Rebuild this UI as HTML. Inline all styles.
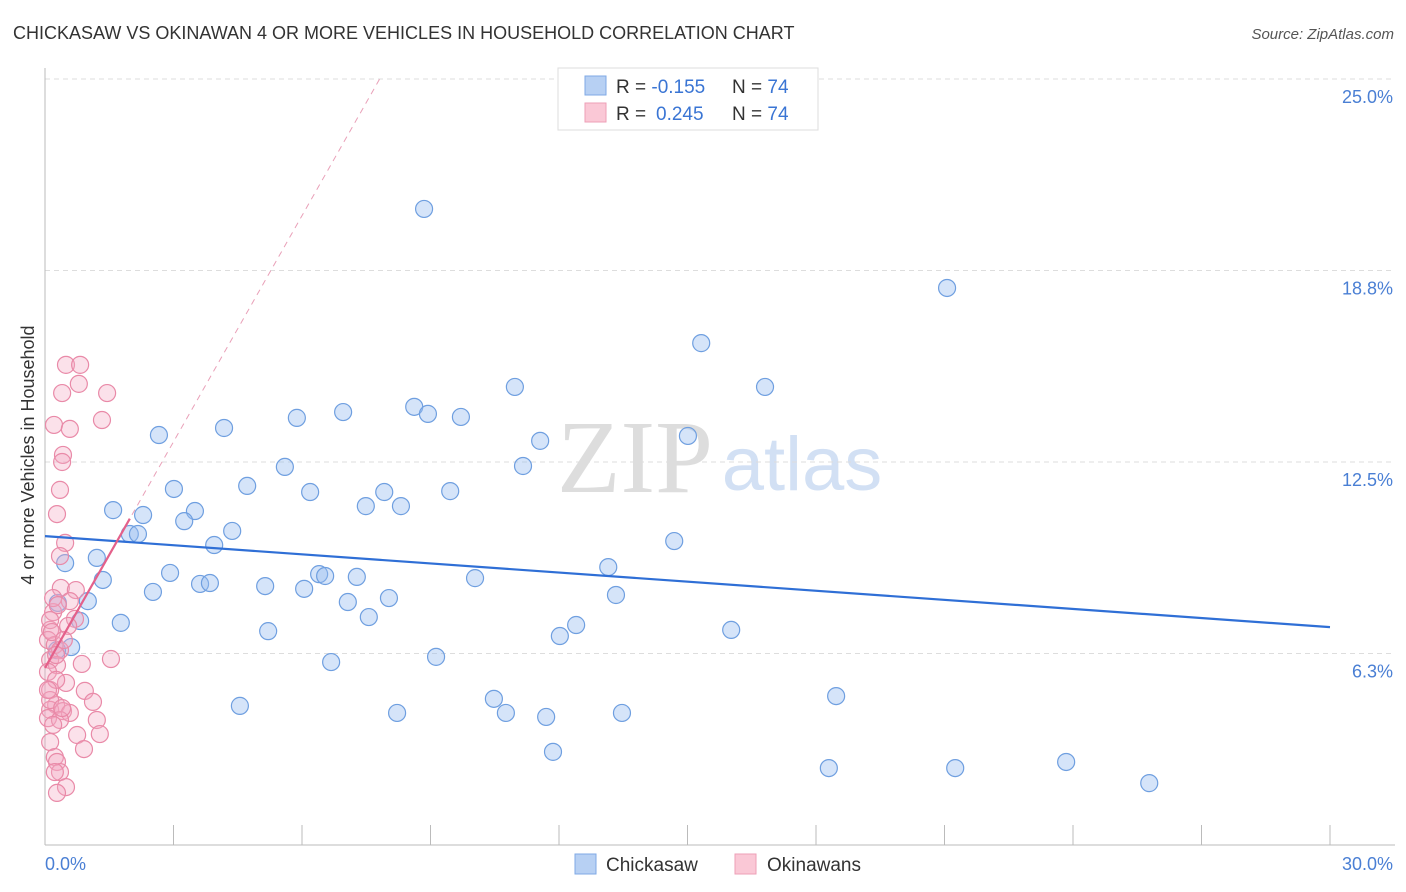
<!DOCTYPE html>
<html><head><meta charset="utf-8"><style>
body{margin:0;background:#fff;font-family:"Liberation Sans",sans-serif;}
svg{display:block}
</style></head><body>
<svg id="chart" width="1406" height="892" xmlns="http://www.w3.org/2000/svg">
<text x="13" y="39" font-size="18" fill="#333">CHICKASAW VS OKINAWAN 4 OR MORE VEHICLES IN HOUSEHOLD CORRELATION CHART</text>
<text x="1394" y="39" font-size="15" font-style="italic" fill="#555" text-anchor="end">Source: ZipAtlas.com</text>
<g>
<text x="635" y="492" font-size="104" font-family="Liberation Serif,serif" fill="#ddd" text-anchor="middle">ZIP</text>
<text x="802" y="490" font-size="76" fill="#d2e0f4" text-anchor="middle">atlas</text>
</g>
<g id="grid"></g>
<g id="axes"></g>
<g id="marks"></g>
<text transform="translate(34,455) rotate(-90)" font-size="18" fill="#333" text-anchor="middle">4 or more Vehicles in Household</text>
<text x="45" y="870" font-size="18" fill="#4a7fd4">0.0%</text>
<text x="1393" y="870" font-size="18" fill="#4a7fd4" text-anchor="end">30.0%</text>
<g>
<rect x="558" y="68" width="260" height="62" fill="#fff" stroke="#ddd"/>
<rect x="585" y="76" width="21" height="19" fill="#b7d0f3" stroke="#7fa9e6"/>
<rect x="585" y="103" width="21" height="19" fill="#fac8d6" stroke="#ee9fb7"/>
<text x="616" y="93" font-size="19" fill="#333">R = <tspan fill="#3a75d4">-0.155</tspan><tspan x="732">N = </tspan><tspan fill="#3a75d4">74</tspan></text>
<text x="616" y="120" font-size="19" fill="#333">R = <tspan x="656" fill="#3a75d4">0.245</tspan><tspan x="732">N = </tspan><tspan fill="#3a75d4">74</tspan></text>
</g>
<g>
<rect x="575" y="854" width="21" height="20" fill="#b7d0f3" stroke="#7fa9e6"/>
<text x="606" y="871" font-size="19" fill="#333">Chickasaw</text>
<rect x="735" y="854" width="21" height="20" fill="#fac8d6" stroke="#ee9fb7"/>
<text x="767" y="871" font-size="19" fill="#333">Okinawans</text>
</g>
</svg>
<script>
const yTicks=[6.25,12.5,18.75,25];
const yTickLabels=["6.3%","12.5%","18.8%","25.0%"];
const xTicks=[0,3,6,9,12,15,18,21,24,27,30];
const blueX=[8.85,21.06,15.32,10.97,16.81,2.66,4.18,5.88,6.96,8.62,8.94,9.71,11.56,15.01,11.16,5.60,3.01,4.72,6.19,7.92,9.46,7.49,8.31,1.59,2.29,3.50,3.25,4.37,1.98,2.17,3.95,14.69,1.21,0.47,13.15,6.40,6.54,7.28,10.04,2.92,1.35,3.62,3.85,5.14,6.05,2.52,8.03,13.33,7.07,0.30,1.00,0.82,1.77,7.56,12.40,12.02,5.21,16.02,0.61,6.68,9.13,10.48,18.47,4.55,8.22,10.76,13.47,11.70,11.86,18.30,21.25,23.84,25.78,0.28];
const blueY=[20.76,18.18,16.38,14.95,14.95,13.38,13.61,13.94,14.13,14.30,14.07,13.97,13.19,13.35,12.37,12.34,11.62,11.72,11.52,11.52,11.55,11.06,11.06,10.93,10.77,10.90,10.57,10.25,10.15,10.15,9.79,9.92,9.37,9.20,9.07,8.84,8.78,8.75,8.71,8.88,8.65,8.52,8.55,8.45,8.36,8.26,8.06,8.16,7.93,7.90,7.96,7.31,7.25,7.44,7.18,6.82,6.98,7.02,6.46,5.97,6.14,4.77,4.86,4.54,4.31,4.31,4.31,4.18,3.04,2.51,2.51,2.71,2.02,6.36];
const pinkX=[0.49,0.82,0.40,0.79,1.45,0.21,0.58,1.33,0.42,0.40,0.35,0.28,0.47,0.35,0.37,0.72,0.58,0.19,0.70,0.54,0.12,0.07,0.23,0.35,0.12,0.28,1.54,0.86,0.07,0.49,0.12,0.93,0.26,1.12,0.12,0.42,0.58,0.07,0.35,1.21,0.19,0.75,1.28,0.12,0.91,0.23,0.28,0.35,0.23,0.49,0.28,0.12,0.12,0.19,0.26,0.07,0.30,0.16,0.44,0.26,0.40];
const pinkY=[15.67,15.67,14.75,15.05,14.75,13.71,13.58,13.87,12.73,12.50,11.59,10.80,9.86,9.43,8.39,8.32,7.96,7.60,7.38,7.15,7.02,6.69,6.53,6.36,6.04,5.87,6.07,5.91,5.65,5.29,5.06,5.03,4.57,4.67,4.41,4.37,4.31,4.14,4.08,4.08,3.92,3.59,3.62,3.36,3.13,2.87,2.71,2.38,2.38,1.89,1.70,4.73,7.34,8.06,5.39,5.06,7.83,6.95,6.69,6.20,4.47];
const blueTrend=[10.08,7.11];
const pinkTrend=[5.78,2.46];
const X0=45,X1=1330,Y0=845,YPER=30.64;
const sx=v=>X0+(v/30)*(X1-X0);
const sy=v=>Y0-v*YPER;
const NS="http://www.w3.org/2000/svg";
function mk(t,a,p){const e=document.createElementNS(NS,t);for(const k in a)e.setAttribute(k,a[k]);p.appendChild(e);return e;}
const grid=document.getElementById('grid'),axes=document.getElementById('axes'),marks=document.getElementById('marks');
yTicks.forEach((t,i)=>{
 const l=mk('line',{x1:X0,x2:1395,y1:sy(t),y2:sy(t),stroke:'#ddd','stroke-dasharray':'5,4'},grid);
 
 
 const tx=mk('text',{x:1393,y:sy(t)+24,'font-size':18,fill:'#4a7fd4','text-anchor':'end'},grid);
 tx.textContent=yTickLabels[i];
 
 
});
const ax=mk('line',{x1:X0,x2:X0,y1:68,y2:Y0,stroke:'#bbb'},axes);


const bx=mk('line',{x1:X0,x2:1395,y1:Y0,y2:Y0,stroke:'#bbb'},axes);


xTicks.forEach(t=>{
 const l=mk('line',{x1:sx(t),x2:sx(t),y1:Y0-20,y2:Y0,stroke:'#bbb'},axes);
 
 
});
blueX.forEach((v,i)=>{
 const c=mk('circle',{cx:sx(v),cy:sy(blueY[i]),r:8.5,fill:'rgba(150,188,240,0.4)',stroke:'#6f9fe0','stroke-width':1.2},marks);
 
 
});
pinkX.forEach((v,i)=>{
 const c=mk('circle',{cx:sx(v),cy:sy(pinkY[i]),r:8.5,fill:'rgba(244,170,194,0.35)',stroke:'#e98aa8','stroke-width':1.2},marks);
 
 
});
const bl=mk('line',{x1:sx(0),y1:sy(blueTrend[0]),x2:sx(30),y2:sy(blueTrend[1]),stroke:'#2f6fd6','stroke-width':2.2},marks);


const pxEnd=(25-pinkTrend[0])/pinkTrend[1];
const pd=mk('line',{x1:sx(0),y1:sy(pinkTrend[0]),x2:sx(pxEnd),y2:sy(25),stroke:'#e9a0b8','stroke-width':1,'stroke-dasharray':'6,5'},marks);


const ps=mk('line',{x1:sx(0),y1:sy(pinkTrend[0]),x2:sx(1.98),y2:sy(pinkTrend[0]+pinkTrend[1]*1.98),stroke:'#e4608a','stroke-width':2.2},marks);


</script>
</body></html>
